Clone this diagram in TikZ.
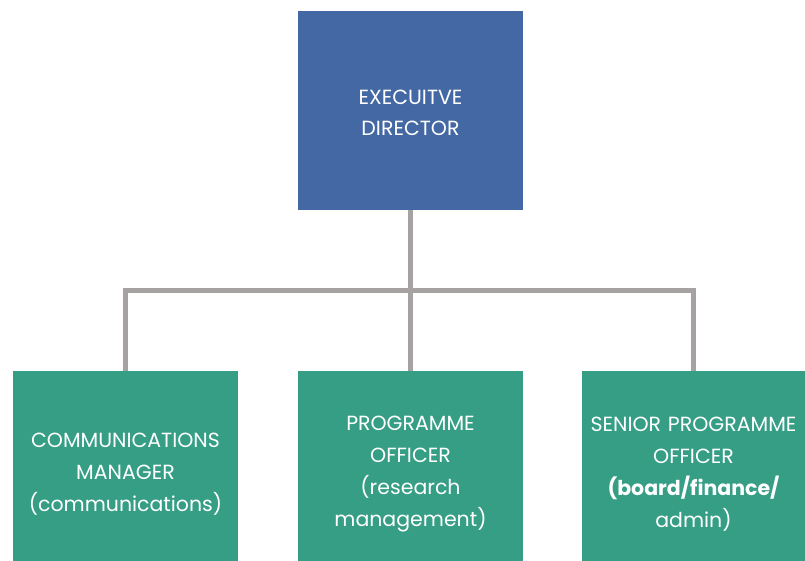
\documentclass[tikz,border=0pt]{standalone}
\usepackage{fontspec}
\setmainfont{Poppins}
\definecolor{execblue}{HTML}{4468A4}
\definecolor{staffgreen}{HTML}{359E85}
\definecolor{linkgrey}{HTML}{A6A2A2}
\begin{document}
\begin{tikzpicture}[
    x=1pt, y=-1pt,
    every node/.style={font=\fontsize{20.5}{32}\selectfont, text=white, align=center},
    rolebox/.style={fill=staffgreen, minimum width=225pt, minimum height=190pt, inner sep=0pt, text width=222pt,
        execute at begin node={\rule{0pt}{31pt}}},
    headbox/.style={fill=execblue, minimum width=225pt, minimum height=199pt, inner sep=0pt, text width=222pt,
        font=\fontsize{20.5}{31}\selectfont, execute at begin node={\rule{0pt}{19pt}}},
    link/.style={draw=linkgrey, line width=5pt},
]
    \useasboundingbox (0, 0) rectangle (805, 561);

    \node[headbox] (exec) at (410.5, 110.5) {EXECUITVE\\DIRECTOR};

    \node[rolebox] (comm) at (125.5, 466) {COMMUNICATIONS\\MANAGER\\(communications)};
    \node[rolebox] (prog) at (410.5, 466) {PROGRAMME\\OFFICER\\(research\\management)};
    \node[rolebox, minimum width=223pt] (snr) at (693.5, 466) {SENIOR PROGRAMME\\OFFICER\\{\bfseries(board/finance/}\\admin)};

    % connectors
    \coordinate (bar) at (410.5, 290);
    \draw[link] (exec.south) -- (prog.north);
    \draw[link] (comm.north) |- (bar) -| (snr.north);

\end{tikzpicture}
\end{document}
